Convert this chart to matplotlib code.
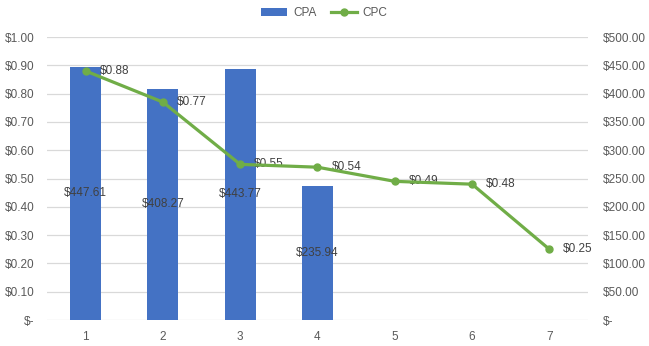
import numpy as np
import matplotlib.pyplot as plt
from matplotlib.ticker import FuncFormatter

# CPA (bars, right axis) and CPC (line, left axis) per period
periods = ['1', '2', '3', '4', '5', '6', '7']
cpa = [447.61, 408.27, 443.77, 235.94, np.nan, np.nan, np.nan]
cpc = [0.88, 0.77, 0.55, 0.54, 0.49, 0.48, 0.25]

plt.rcParams['font.family'] = ['Liberation Sans', 'DejaVu Sans']
text_grey = '#595959'
label_grey = '#404040'
blue = '#4472C4'
green = '#70AD47'

fig = plt.figure(figsize=(6.49, 3.46), dpi=100)
ax_cpc = fig.add_axes([0.0724, 0.0751, 0.8336, 0.8179])
ax_cpa = ax_cpc.twinx()
# bars behind the line
ax_cpc.set_zorder(ax_cpa.get_zorder() + 1)
ax_cpc.patch.set_visible(False)

x = np.arange(len(periods))

bars = ax_cpa.bar(x, cpa, width=0.4, color=blue, label='CPA', zorder=2)
for xi, v in zip(x, cpa):
    if not np.isnan(v):
        ax_cpa.text(xi, v / 2, f'${v:,.2f}', ha='center', va='center',
                    fontsize=8.5, color=label_grey, zorder=3)

line, = ax_cpc.plot(x, cpc, color=green, lw=2.3, marker='o', ms=5,
                    label='CPC', zorder=4)
for xi, v in zip(x, cpc):
    ax_cpc.annotate(f'${v:.2f}', (xi, v), xytext=(10, 0),
                    textcoords='offset points', ha='left', va='center',
                    fontsize=8.5, color=label_grey)

ax_cpc.set_xlim(-0.5, len(periods) - 0.5)
ax_cpc.set_xticks(x)
ax_cpc.set_xticklabels(periods)
ax_cpc.set_ylim(0, 1.0)
ax_cpc.set_yticks(np.arange(0, 1.01, 0.1))
ax_cpa.set_ylim(0, 500)
ax_cpa.set_yticks(np.arange(0, 501, 50))

ax_cpc.yaxis.set_major_formatter(FuncFormatter(
    lambda v, _: '$-' if abs(v) < 1e-9 else f'${v:.2f}'))
ax_cpa.yaxis.set_major_formatter(FuncFormatter(
    lambda v, _: '$-' if abs(v) < 1e-9 else f'${v:.2f}'))

ax_cpa.grid(axis='y', color='#D9D9D9', lw=0.9, zorder=0)
ax_cpa.set_axisbelow(True)

for a in (ax_cpc, ax_cpa):
    for s in a.spines.values():
        s.set_visible(False)
    a.tick_params(length=0, labelsize=8.5, colors=text_grey)
ax_cpc.tick_params(axis='y', pad=9)
ax_cpa.tick_params(axis='y', pad=11)
ax_cpc.tick_params(axis='x', pad=8)

fig.legend(handles=[bars, line], labels=['CPA', 'CPC'], loc='upper center',
           bbox_to_anchor=(0.5, 1.01), ncol=2, frameon=False, fontsize=8.5,
           labelcolor=text_grey, handlelength=2.2, columnspacing=1.2,
           handletextpad=0.5)

fig.savefig('out.png', dpi=100)
